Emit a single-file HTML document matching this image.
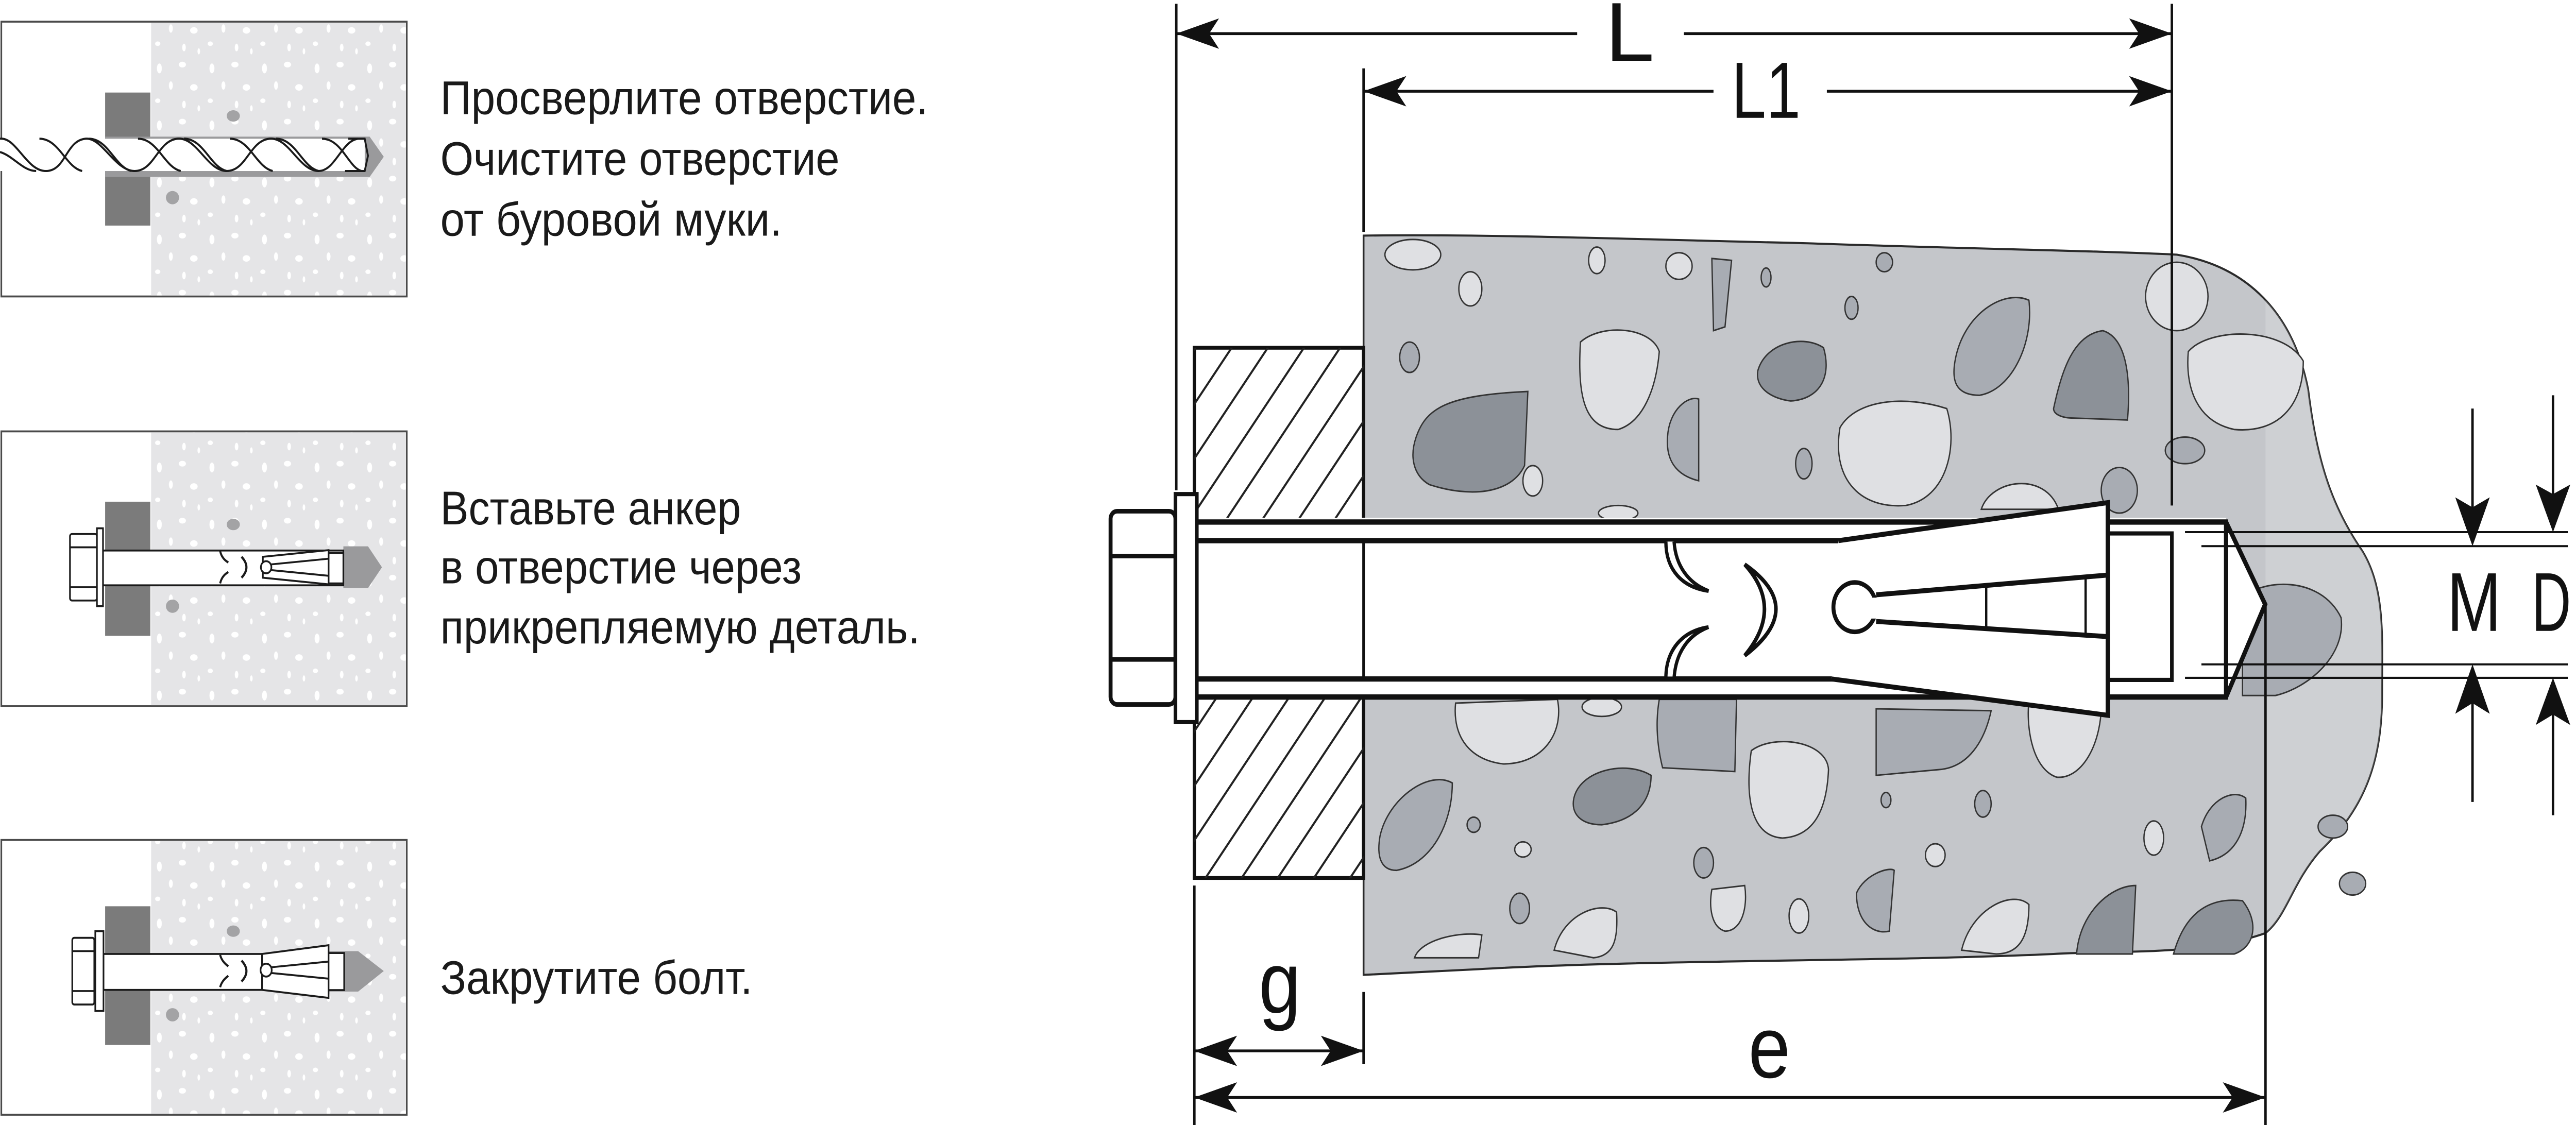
<!DOCTYPE html>
<html><head><meta charset="utf-8"><style>
html,body{margin:0;padding:0;background:#fff;width:100%;height:100%;overflow:hidden;}
svg{display:block;position:absolute;left:0;top:0;width:100vw;height:100vh;}
</style></head><body>
<svg width="5784" height="2184" viewBox="0 0 1568 592" preserveAspectRatio="none" xmlns="http://www.w3.org/2000/svg">
<defs>
<pattern id="dots" x="92" y="0" width="32" height="30" patternUnits="userSpaceOnUse">
<rect width="32" height="30" fill="#e5e5e7"/>
<ellipse cx="5" cy="6" rx="1.5" ry="2.6" fill="#fff"/>
<ellipse cx="19" cy="4" rx="2.2" ry="1.5" fill="#fff"/>
<ellipse cx="12" cy="15" rx="1.2" ry="2.2" fill="#fff"/>
<ellipse cx="26" cy="16" rx="2.3" ry="1.7" fill="#fff"/>
<ellipse cx="4" cy="23" rx="1.6" ry="1.2" fill="#fff"/>
<ellipse cx="20" cy="25" rx="1.1" ry="2" fill="#fff"/>
<ellipse cx="29" cy="27" rx="0.8" ry="1.6" fill="#fff"/>
</pattern>
<clipPath id="plateclip"><rect x="727" y="183" width="103" height="279"/></clipPath>
<clipPath id="rightclip"><rect x="1379" y="0" width="200" height="592"/></clipPath>
</defs>

<g stroke="#4a4a4a" stroke-width="1">
<rect x="0.8" y="11.4" width="246.8" height="144.6" fill="#fff"/>
<rect x="0.8" y="227" width="246.8" height="144.6" fill="#fff"/>
<rect x="0.8" y="442" width="246.8" height="144.6" fill="#fff"/>
</g>
<rect x="92" y="12" width="155" height="143.5" fill="url(#dots)"/>
<rect x="92" y="227.6" width="155" height="143.5" fill="url(#dots)"/>
<rect x="92" y="442.6" width="155" height="143.5" fill="url(#dots)"/>
<g fill="#a3a3a5">
<ellipse cx="142" cy="61" rx="4" ry="3"/><ellipse cx="105" cy="104" rx="4" ry="3.5"/>
<ellipse cx="142" cy="276" rx="4" ry="3"/><ellipse cx="105" cy="319" rx="4" ry="3.5"/>
<ellipse cx="142" cy="490" rx="4" ry="3"/><ellipse cx="105" cy="534" rx="4" ry="3.5"/>
</g>

<rect x="64" y="48.7" width="27.5" height="70" fill="#7b7b7b"/>
<polygon points="64,71.9 225,71.9 233.6,82.5 225,93.1 64,93.1" fill="#9a9a9c"/>
<rect x="0" y="73" width="222" height="17" fill="#fff"/>
<g fill="none" stroke="#1a1a1a" stroke-width="1.1">
<path d="M0,73 C10,72 16,90 28,90 C40,90 40,74 52,73 C62,72 70,90 82,90 C94,90 96,74 108,73 C120,72 126,90 138,90 C150,90 152,74 164,73 C176,72 182,90 194,90 C204,90 208,74 218,73"/>
<path d="M0,80 C8,82 14,90 22,90 M24,73 C36,73 40,88 50,90 M54,73 C66,73 70,88 80,90 M84,73 C96,73 100,88 110,90 M112,73 C124,73 128,88 138,90 M140,73 C152,73 156,88 166,90 M168,73 C180,73 184,88 194,90 M196,73 C208,73 212,88 220,90"/>
<path d="M212,73 L222,73 L224,82 L222,90 L210,90"/>
</g>

<rect x="64" y="264" width="27.5" height="70.6" fill="#7b7b7b"/>
<polygon points="209,287.5 224,287.5 232.5,298.5 224,309.5 209,309.5" fill="#9a9a9c"/>
<g stroke="#1a1a1a" stroke-width="1" fill="#fff">
<rect x="62.7" y="289.7" width="146.3" height="18.3"/>
<rect x="200" y="291" width="9" height="16"/>
<polygon points="160,293 200,289.5 200,307.5 160,304"/>
<rect x="42.6" y="281" width="16.4" height="35" rx="1.2"/>
<line x1="42.6" y1="288" x2="59" y2="288"/><line x1="42.6" y1="309" x2="59" y2="309"/>
<rect x="59" y="278" width="3.7" height="41"/>
<circle cx="162" cy="298.5" r="3.2"/>
<path d="M165,297 L200,294 M165,300 L200,303" fill="none"/>
<path d="M147,293 Q153,298.5 147,304" fill="none" stroke-width="1.3"/>
<path d="M134,290 Q135,294 139,296 M139,301 Q135,303 134,307" fill="none" stroke-width="1.2"/>
</g>

<rect x="64" y="476.9" width="27.5" height="73" fill="#7b7b7b"/>
<polygon points="200,500.5 218,500.5 233.6,511 218,521.8 200,521.8" fill="#9a9a9c"/>
<g stroke="#1a1a1a" stroke-width="1" fill="#fff">
<rect x="63" y="502" width="100" height="18.9"/>
<rect x="195" y="501.5" width="14.5" height="19.5"/>
<polygon points="159.5,502 200,497.4 200,525.1 159.5,520.9"/>
<rect x="44" y="493.5" width="13.4" height="35.1" rx="1.2"/>
<line x1="44" y1="500.5" x2="57.4" y2="500.5"/><line x1="44" y1="521.5" x2="57.4" y2="521.5"/>
<rect x="58" y="490" width="5" height="42"/>
<circle cx="162" cy="510.5" r="3.4"/>
<path d="M165,509 L200,506 M165,512 L200,515" fill="none"/>
<path d="M147,505.5 Q153,511 147,516.5" fill="none" stroke-width="1.3"/>
<path d="M134,502.5 Q135,506 139,508.5 M139,513.5 Q135,516 134,519.5" fill="none" stroke-width="1.2"/>
</g>

<g font-family="'Liberation Sans','Noto Sans CJK SC',sans-serif" font-size="25" fill="#1a1a1a">
<text x="268" y="60" textLength="297" lengthAdjust="spacingAndGlyphs">Просверлите отверстие.</text>
<text x="268" y="92" textLength="243" lengthAdjust="spacingAndGlyphs">Очистите отверстие</text>
<text x="268" y="124" textLength="208" lengthAdjust="spacingAndGlyphs">от буровой муки.</text>
<text x="268" y="276" textLength="183" lengthAdjust="spacingAndGlyphs">Вставьте анкер</text>
<text x="268" y="307" textLength="220" lengthAdjust="spacingAndGlyphs">в отверстие через</text>
<text x="268" y="338.5" textLength="292" lengthAdjust="spacingAndGlyphs">прикрепляемую деталь.</text>
<text x="268" y="523" textLength="190" lengthAdjust="spacingAndGlyphs">Закрутите болт.</text>
</g>

<path d="M830,124 C900,123 1000,126 1100,128 C1200,131 1280,132 1325,134 C1368,140 1396,165 1405,205 C1410,240 1418,265 1438,290 C1452,310 1450,335 1450,365 C1450,400 1440,425 1412,448 C1395,465 1392,482 1379,491 C1340,503 1290,500 1250,502 C1150,506 1000,505 900,510 L830,513 Z" fill="#c4c6ca" stroke="#2a2a2a" stroke-width="1.1"/>
<g clip-path="url(#rightclip)"><path d="M830,124 C900,123 1000,126 1100,128 C1200,131 1280,132 1325,134 C1368,140 1396,165 1405,205 C1410,240 1418,265 1438,290 C1452,310 1450,335 1450,365 C1450,400 1440,425 1412,448 C1395,465 1392,482 1379,491 C1340,503 1290,500 1250,502 C1150,506 1000,505 900,510 L830,513 Z" fill="#ffffff" fill-opacity="0.18"/></g>

<g stroke="#333" stroke-width="0.8">
<g fill="#dfe0e3">
<ellipse cx="860" cy="134" rx="17" ry="8"/>
<ellipse cx="972" cy="137" rx="5" ry="7"/>
<ellipse cx="1022" cy="140" rx="8" ry="7"/>
<ellipse cx="1325" cy="156" rx="19" ry="18"/>
<ellipse cx="895" cy="152" rx="7" ry="9"/>
<path d="M962,180 C975,170 1005,172 1010,185 C1008,205 1000,222 985,226 C965,226 960,210 962,180 Z"/>
<path d="M1120,225 C1130,210 1160,208 1185,215 C1192,235 1185,262 1160,266 C1130,268 1115,250 1120,225 Z"/>
<path d="M1332,185 C1345,172 1390,172 1402,190 C1402,215 1385,228 1360,226 C1338,222 1330,205 1332,185 Z"/>
<ellipse cx="933" cy="253" rx="6" ry="8"/>
<path d="M1206,268 C1212,252 1245,248 1253,268 Z"/>
<ellipse cx="985" cy="270" rx="12" ry="4"/>
<path d="M886,370 L948,368 C952,385 940,402 915,402 C895,400 884,388 886,370 Z"/>
<ellipse cx="975" cy="372" rx="12" ry="5"/>
<path d="M1235,368 L1279,368 C1280,390 1268,410 1252,409 C1238,405 1233,385 1235,368 Z"/>
<path d="M1066,395 C1080,386 1112,390 1113,405 C1112,425 1105,440 1085,441 C1066,440 1062,420 1066,395 Z"/>
<ellipse cx="1311" cy="441" rx="6" ry="9"/>
<ellipse cx="927" cy="447" rx="5" ry="4"/>
<ellipse cx="1178" cy="450" rx="6" ry="6"/>
<path d="M1042,468 L1062,466 C1064,478 1060,490 1050,490 C1042,488 1040,478 1042,468 Z"/>
<ellipse cx="1095" cy="482" rx="6" ry="9"/>
<path d="M946,500 C952,480 975,474 984,480 C985,495 982,503 970,504 Z"/>
<path d="M1194,500 C1200,478 1225,468 1235,476 C1235,492 1230,502 1215,502 Z"/>
<path d="M861,504 C865,494 890,490 902,492 L900,504 Z"/>
</g>
<g fill="#a8acb3">
<path d="M1042,136 L1054,137 L1050,172 L1043,174 Z"/>
<ellipse cx="1147" cy="138" rx="5" ry="5"/>
<ellipse cx="1075" cy="146" rx="3" ry="5"/>
<ellipse cx="1127" cy="162" rx="4" ry="6"/>
<path d="M1190,190 C1195,165 1220,152 1235,158 C1238,180 1225,205 1205,208 C1190,208 1188,200 1190,190 Z"/>
<ellipse cx="858" cy="188" rx="6" ry="8"/>
<path d="M1015,230 C1016,215 1028,208 1034,210 L1034,253 C1020,250 1014,242 1015,230 Z"/>
<ellipse cx="1330" cy="237" rx="12" ry="7"/>
<ellipse cx="1098" cy="244" rx="5" ry="8"/>
<ellipse cx="1290" cy="258" rx="11" ry="12"/>
<path d="M1010,368 L1057,368 L1056,406 L1012,404 C1008,390 1008,378 1010,368 Z"/>
<path d="M1142,373 L1212,374 C1208,390 1198,404 1180,405 L1142,408 Z"/>
<path d="M1340,435 C1345,420 1360,415 1367,420 C1368,438 1360,450 1345,453 Z"/>
<path d="M840,440 C845,420 870,405 884,412 C884,435 870,455 850,458 C840,458 838,450 840,440 Z"/>
<ellipse cx="1148" cy="421" rx="3" ry="4"/>
<ellipse cx="1207" cy="423" rx="5" ry="7"/>
<ellipse cx="1037" cy="454" rx="6" ry="8"/>
<path d="M1130,470 C1135,460 1150,456 1153,458 L1150,490 C1140,492 1130,485 1130,470 Z"/>
<ellipse cx="925" cy="478" rx="6" ry="8"/>
<ellipse cx="897" cy="434" rx="4" ry="4"/>
<path d="M1365,315 C1375,305 1412,302 1425,325 C1428,345 1405,362 1385,366 L1365,366 Z"/>
<ellipse cx="1420" cy="435" rx="9" ry="6"/>
<ellipse cx="1432" cy="465" rx="8" ry="6"/>
</g>
<g fill="#8c9198">
<path d="M1070,195 C1075,180 1098,176 1110,183 C1115,198 1108,210 1090,211 C1080,210 1068,205 1070,195 Z"/>
<path d="M1250,215 C1255,195 1262,176 1280,174 C1295,178 1297,200 1295,221 L1262,220 C1255,220 1250,218 1250,215 Z"/>
<path d="M862,230 C868,215 880,208 930,206 L928,245 C920,260 895,262 870,255 C860,250 858,240 862,230 Z"/>
<path d="M958,420 C962,405 990,400 1005,408 C1005,422 995,432 975,434 C962,434 956,428 958,420 Z"/>
<path d="M1264,502 C1266,480 1285,466 1300,466 L1298,502 Z"/>
<path d="M1323,502 C1330,480 1345,472 1365,474 C1375,485 1373,498 1360,502 Z"/>
</g>
</g>

<rect x="727" y="183" width="103" height="279" fill="#fff" stroke="#111" stroke-width="2"/>
<g clip-path="url(#plateclip)" stroke="#222" stroke-width="1.2">
<line x1="500" y1="480" x2="730" y2="180"/><line x1="522" y1="480" x2="752" y2="180"/>
<line x1="544" y1="480" x2="774" y2="180"/><line x1="566" y1="480" x2="796" y2="180"/>
<line x1="588" y1="480" x2="818" y2="180"/><line x1="610" y1="480" x2="840" y2="180"/>
<line x1="632" y1="480" x2="862" y2="180"/><line x1="654" y1="480" x2="884" y2="180"/>
<line x1="676" y1="480" x2="906" y2="180"/><line x1="698" y1="480" x2="928" y2="180"/>
<line x1="720" y1="480" x2="950" y2="180"/><line x1="742" y1="480" x2="972" y2="180"/>
<line x1="764" y1="480" x2="994" y2="180"/><line x1="786" y1="480" x2="1016" y2="180"/>
<line x1="808" y1="480" x2="1038" y2="180"/><line x1="830" y1="480" x2="1060" y2="180"/>
</g>

<rect x="727" y="272.5" width="628" height="95.5" fill="#fff"/>
<polygon points="1355,274.7 1378.8,318 1355,366.8" fill="#fff"/>
<g stroke="#111" fill="none">
<line x1="728" y1="274.7" x2="1356" y2="274.7" stroke-width="2.8"/>
<line x1="728" y1="366.8" x2="1356" y2="366.8" stroke-width="2.8"/>
<line x1="1355" y1="273.5" x2="1355" y2="368" stroke-width="2.6"/>
<polyline points="1355,274.7 1378.8,318 1355,366.8" stroke-width="2.6"/>
<line x1="728" y1="284.5" x2="1120" y2="284.5" stroke-width="2.8"/>
<line x1="728" y1="357.3" x2="1116" y2="357.3" stroke-width="2.8"/>
<line x1="830" y1="284.5" x2="830" y2="357.3" stroke-width="1.6"/>
</g>
<polygon points="1119,284.5 1283,264.5 1283,376.4 1115,357.3" fill="#fff"/>
<g stroke="#111" fill="none" stroke-width="2.6">
<polyline points="1119,284.5 1283,264.5 1283,376.4 1115,357.3"/>
<polyline points="1283,280.7 1322,280.7 1322,357.8 1283,357.8" stroke-width="2.2"/>
<line x1="1142" y1="313" x2="1283" y2="302.6"/>
<line x1="1142" y1="327" x2="1283" y2="335"/>
<line x1="1209" y1="307.5" x2="1209" y2="330.5" stroke-width="1.4"/>
<line x1="1269.5" y1="303.5" x2="1269.5" y2="334.5" stroke-width="1.4"/>
</g>
<circle cx="1129" cy="319.5" r="13" fill="#fff" stroke="#111" stroke-width="2.4"/>
<rect x="1138" y="314.5" width="8" height="11" fill="#fff"/>
<path d="M1062,297 Q1100,320 1062,345 Q1086,320 1062,297 Z" fill="#fff" stroke="#111" stroke-width="2.2"/>
<path d="M1014,285 C1014,300 1024,309 1040,311 C1028,307 1020,298 1019,285" fill="#fff" stroke="#111" stroke-width="2"/>
<path d="M1040,330 C1024,332 1014,342 1014,357 L1019,357 C1020,343 1028,334 1040,330" fill="#fff" stroke="#111" stroke-width="2"/>

<rect x="676" y="269" width="39.5" height="101.7" rx="4" fill="#fff" stroke="#111" stroke-width="2.4"/>
<line x1="676" y1="292.6" x2="715.5" y2="292.6" stroke="#111" stroke-width="2.4"/>
<line x1="676" y1="347" x2="715.5" y2="347" stroke="#111" stroke-width="2.4"/>
<rect x="715.5" y="260" width="13" height="120" fill="#fff" stroke="#111" stroke-width="2.2"/>

<g stroke="#111" stroke-width="1.5" fill="none">
<line x1="716" y1="2" x2="716" y2="258"/>
<line x1="1322" y1="2" x2="1322" y2="266"/>
<line x1="830" y1="36" x2="830" y2="122"/>
<line x1="727" y1="466" x2="727" y2="592"/>
<line x1="830" y1="522" x2="830" y2="560"/>
<line x1="1379" y1="318" x2="1379" y2="592"/>
<line x1="716" y1="17.7" x2="960" y2="17.7"/><line x1="1025" y1="17.7" x2="1322" y2="17.7"/>
<line x1="830" y1="48" x2="1043" y2="48"/><line x1="1112" y1="48" x2="1322" y2="48"/>
<line x1="727" y1="553" x2="830" y2="553"/>
<line x1="727" y1="577.5" x2="1379" y2="577.5"/>
<g stroke-width="1.1">
<line x1="1330" y1="280" x2="1563" y2="280"/><line x1="1340" y1="287.4" x2="1563" y2="287.4"/>
<line x1="1340" y1="349.6" x2="1563" y2="349.6"/><line x1="1330" y1="356.7" x2="1563" y2="356.7"/>
</g>
<line x1="1505" y1="215" x2="1505" y2="270"/>
<line x1="1505" y1="365" x2="1505" y2="422"/>
<line x1="1554" y1="208" x2="1554" y2="260"/>
<line x1="1554" y1="375" x2="1554" y2="429"/>
</g>
<g fill="#111">
<polygon points="716,17.7 742,9.7 736,17.7 742,25.7"/>
<polygon points="1322,17.7 1296,9.7 1302,17.7 1296,25.7"/>
<polygon points="830,48 856,40 850,48 856,56"/>
<polygon points="1322,48 1296,40 1302,48 1296,56"/>
<polygon points="727,553 753,545 747,553 753,561"/>
<polygon points="830,553 804,545 810,553 804,561"/>
<polygon points="727,577.5 753,569.5 747,577.5 753,585.5"/>
<polygon points="1379,577.5 1353,569.5 1359,577.5 1353,585.5"/>
<polygon points="1505,287.4 1494.5,261.7 1505,267 1515.5,261.7"/>
<polygon points="1505,349.6 1494.5,375.6 1505,370 1515.5,375.6"/>
<polygon points="1554,280 1543.5,255 1554,260 1564.5,255"/>
<polygon points="1554,356.7 1543.5,381.5 1554,376 1564.5,381.5"/>
</g>
<g font-family="'Liberation Sans',sans-serif" fill="#111" text-anchor="middle">
<text x="992" y="32" font-size="44" textLength="30" lengthAdjust="spacingAndGlyphs">L</text>
<text x="1075" y="62" font-size="42" textLength="42" lengthAdjust="spacingAndGlyphs">L1</text>
<text x="779" y="533" font-size="46">g</text>
<text x="1077" y="567" font-size="46">e</text>
<text x="1506" y="332" font-size="44" textLength="33" lengthAdjust="spacingAndGlyphs">M</text>
<text x="1553" y="332" font-size="44" textLength="24" lengthAdjust="spacingAndGlyphs">D</text>
</g>
</svg>
</body></html>
